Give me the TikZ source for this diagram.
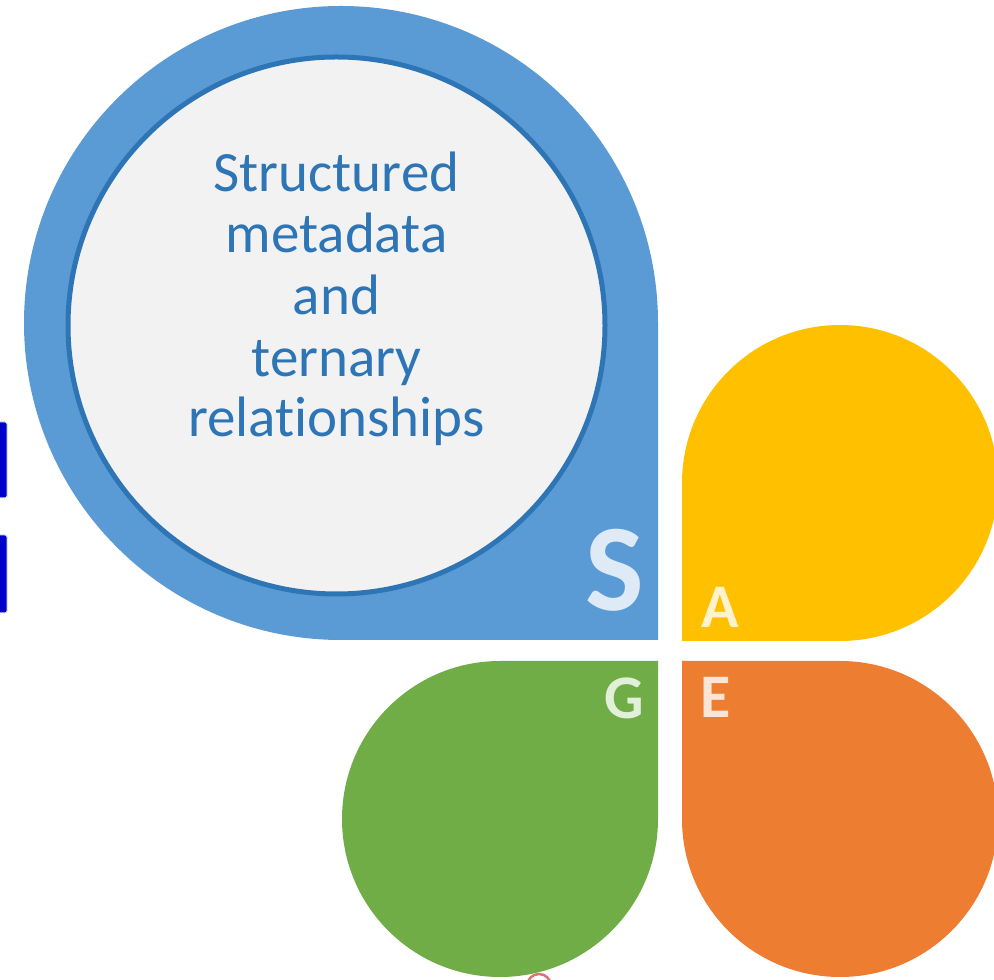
\documentclass[tikz,border=0pt]{standalone}
\usepackage{fontspec}
\setmainfont{Carlito}[Ligatures={NoCommon,NoContextual}]
\definecolor{sblue}{HTML}{5B9BD5}
\definecolor{dblue}{HTML}{2E75B6}
\definecolor{lgrey}{HTML}{F2F2F2}
\definecolor{ayellow}{HTML}{FFC000}
\definecolor{eorange}{HTML}{ED7D31}
\definecolor{ggreen}{HTML}{70AD47}
\definecolor{sletter}{HTML}{DEEBF7}
\definecolor{aletter}{HTML}{FFF2CC}
\definecolor{gletter}{HTML}{E2F0D9}
\definecolor{eletter}{HTML}{FBE5D6}
\definecolor{barblue}{HTML}{0000C8}
\begin{document}
\begin{tikzpicture}[x=1pt,y=1pt,
  txtline/.style={anchor=base,inner sep=0pt,text=dblue,font=\fontsize{57}{61}\selectfont},
  bigletter/.style={anchor=base,inner sep=0pt,font=\bfseries\fontsize{124}{124}\selectfont},
  letter/.style={anchor=base,inner sep=0pt,font=\bfseries\fontsize{62}{62}\selectfont},
  edgebar/.style={fill=barblue,draw=gray!25,line width=1pt,rounded corners=2pt}]
\useasboundingbox (0,0) rectangle (994,980);
\fill[white] (0,0) rectangle (994,980);
% cropped artifacts at the edges
\draw[edgebar] (-4,482) rectangle (7,558);
\draw[edgebar] (-4,367) rectangle (7,445);
\draw[red!55!gray!70,line width=2.5pt] (539,-6) circle[radius=12];
% blue drop
\fill[sblue] (658,657) arc[start angle=0,end angle=270,radius=317] -- (658,340) -- cycle;
\node[circle,minimum size=537pt,fill=lgrey,draw=dblue,line width=5pt,inner sep=0pt] (inner) at (336.5,654.5) {};
% petals
\fill[ayellow] (840,339) arc[start angle=-90,end angle=180,radius=158] -- (682,339) -- cycle;
\fill[eorange] (682,161) arc[start angle=180,end angle=450,radius=158] -- (682,319) -- cycle;
\fill[ggreen] (500,319) arc[start angle=90,end angle=360,radius=158] -- (658,319) -- cycle;
% text
\node[txtline] (l1) at (336.5,788) {Structured};
\node[txtline] (l2) at (336.5,727) {metadata};
\node[txtline] (l3) at (336.5,665) {and};
\node[txtline] (l4) at (336.5,603) {ternary};
\node[txtline] (l5) at (336.5,543) {relationships};
% letters
\node[bigletter,text=sletter] (S) at (614.5,369) {S};
\node[letter,text=aletter] (A) at (720,352) {A};
\node[letter,text=gletter] (G) at (624.5,261) {G};
\node[letter,text=eletter] (E) at (716,262) {E};
\end{tikzpicture}
\end{document}
